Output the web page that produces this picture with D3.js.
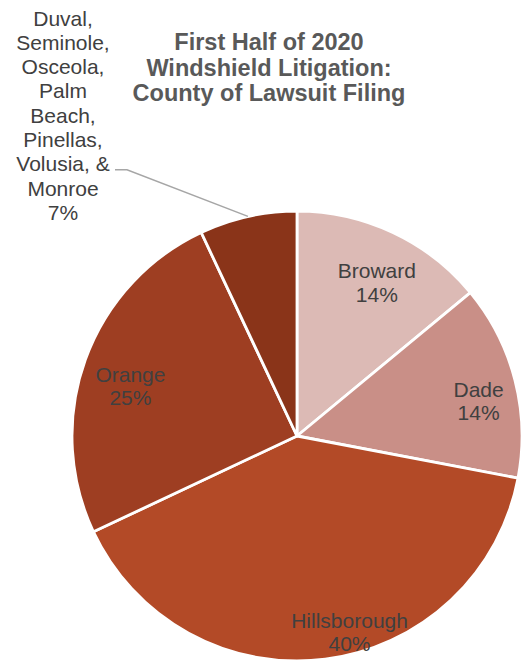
<!DOCTYPE html>
<html>
<head>
<meta charset="utf-8">
<script src="https://cdn.jsdelivr.net/npm/d3@7"></script>
<style>
  html, body { margin: 0; padding: 0; background: #fff; }
  svg { display: block; font-family: "Liberation Sans", Arial, sans-serif; }
</style>
</head>
<body>
<svg id="chart" width="522" height="660"></svg>
<script>
// County shares of windshield lawsuits, first half of 2020 (percent)
const counties = ["Broward", "Dade", "Hillsborough", "Orange", "Other"];
const shares = [14, 14, 40, 25, 7];
const labelLines = [
  ["Broward"],
  ["Dade"],
  ["Hillsborough"],
  ["Orange"],
  ["Duval,", "Seminole,", "Osceola,", "Palm", "Beach,", "Pinellas,", "Volusia, &", "Monroe"]
];
const sliceColors = ["#dcbab5", "#c98f87", "#b34a27", "#9e3e22", "#8a3419"];
const titleLines = ["First Half of 2020", "Windshield Litigation:", "County of Lawsuit Filing"];

const svg = d3.select("#chart");
const cx = 297, cy = 436, R = 225;

const data = counties.map((c, i) => ({ county: c, value: shares[i], lines: labelLines[i] }));

const pie = d3.pie().value(d => d.value).sort(null);
const arcs = pie(data);
const arc = d3.arc().innerRadius(0).outerRadius(R);

const color = d3.scaleOrdinal().domain(counties).range(sliceColors);

const g = svg.append("g").attr("transform", `translate(${cx},${cy})`);

g.selectAll("path.slice")
  .data(arcs)
  .join("path")
  .attr("class", "slice")
  .attr("d", arc)
  .attr("fill", d => color(d.data.county))
  .attr("stroke", "#fff")
  .attr("stroke-width", 2.8)
  .attr("stroke-linejoin", "round");

// Label placement: radius from centre and angle shift (degrees) off the slice middle
const labelPlace = {
  Broward: { r: 173, shift: 2.3 },
  Dade: { r: 185, shift: 3.4 },
  Hillsborough: { r: 203, shift: -7.8 },
  Orange: { r: 174, shift: -3 }
};

const fontSize = 21;
const pct = v => d3.format(".0f")(v) + "%";

arcs.filter(d => d.data.county !== "Other").forEach(d => {
  const p = labelPlace[d.data.county];
  const lineH = 23.5;
  const a = (d.startAngle + d.endAngle) / 2 + p.shift * Math.PI / 180;
  const x = p.r * Math.sin(a), y = -p.r * Math.cos(a);
  const lines = d.data.lines.concat([pct(d.value)]);
  const t = g.append("text")
    .attr("text-anchor", "middle")
    .attr("fill", "#404040")
    .attr("font-size", fontSize);
  const top = y - (lines.length - 1) * lineH / 2 + fontSize * 0.36;
  lines.forEach((ln, i) => {
    t.append("tspan").attr("x", x).attr("y", top + i * lineH).text(ln);
  });
});

// Outside label with leader line for the smaller counties
const other = arcs.find(d => d.data.county === "Other");
const mid = (other.startAngle + other.endAngle) / 2;
const edge = [cx + R * Math.sin(mid), cy - R * Math.cos(mid)];
const otherLines = other.data.lines.concat([pct(other.value)]);
const ox = 63, oy0 = 25.5, oLineH = 24.3;
const ot = svg.append("text")
  .attr("text-anchor", "middle")
  .attr("fill", "#404040")
  .attr("font-size", fontSize);
otherLines.forEach((ln, i) => {
  ot.append("tspan").attr("x", ox).attr("y", oy0 + i * oLineH).text(ln);
});
const elbowY = oy0 + 6 * oLineH - 1.5;
svg.append("path")
  .attr("d", d3.line()([[115, elbowY], [127, elbowY], edge]))
  .attr("fill", "none")
  .attr("stroke", "#a6a6a6")
  .attr("stroke-width", 1.5);

// Title
const title = svg.append("text")
  .attr("text-anchor", "middle")
  .attr("fill", "#595959")
  .attr("font-size", 23.5)
  .attr("font-weight", "bold");
titleLines.forEach((ln, i) => {
  title.append("tspan").attr("x", 269).attr("y", 50 + i * 25.5).text(ln);
});
</script>
</body>
</html>
